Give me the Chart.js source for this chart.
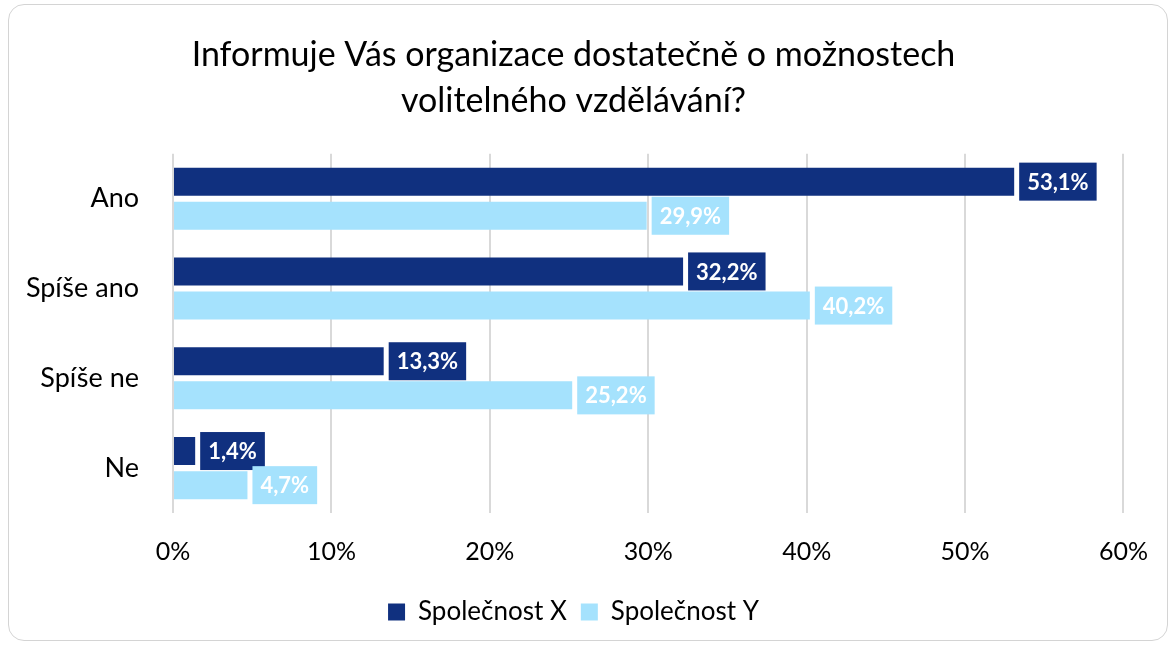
<!DOCTYPE html>
<html>
<head>
<meta charset="utf-8">
<script src="https://cdn.jsdelivr.net/npm/chart.js@4"></script>
<style>
  html, body { margin: 0; padding: 0; background: #fff; }
  #card {
    position: absolute; left: 8px; top: 4px; width: 1160px; height: 637px;
    border: 1.5px solid #d4d4d4; border-radius: 16px; box-sizing: border-box;
  }
  #wrap { position: absolute; left: 0; top: 0; width: 1172px; height: 646px; }
</style>
</head>
<body>
<div id="card"></div>
<div id="wrap"><canvas id="chart" width="1172" height="646"></canvas></div>
<script>
const categories = ['Ano', 'Spíše ano', 'Spíše ne', 'Ne'];
const seriesNames = ['Společnost X', 'Společnost Y'];
const companyX = [53.1, 32.2, 13.3, 1.4];
const companyY = [29.9, 40.2, 25.2, 4.7];
const titleLines = ['Informuje Vás organizace dostatečně o možnostech', 'volitelného vzdělávání?'];

const darkBlue = '#10307f';
const lightBlue = '#a5e2fd';
const fontFamily = 'Lato, "Open Sans", sans-serif';

// draws the value boxes next to each bar
const valueBoxes = {
  id: 'valueBoxes',
  afterDatasetsDraw(chart) {
    const ctx = chart.ctx;
    ctx.save();
    ctx.font = 'bold 22px ' + fontFamily;
    ctx.textBaseline = 'middle';
    ctx.textAlign = 'left';
    chart.data.datasets.forEach((ds, i) => {
      const meta = chart.getDatasetMeta(i);
      meta.data.forEach((bar, j) => {
        const text = ds.data[j].toFixed(1).replace('.', ',') + '%';
        const w = ctx.measureText(text).width + 16;
        const h = 38;
        const x = bar.x + 5;
        const y = bar.y - h / 2;
        ctx.fillStyle = ds.backgroundColor;
        ctx.fillRect(x, y, w, h);
        ctx.fillStyle = '#ffffff';
        ctx.fillText(text, x + 8, bar.y + 1);
      });
    });
    ctx.restore();
  }
};

new Chart(document.getElementById('chart').getContext('2d'), {
  type: 'bar',
  data: {
    labels: categories,
    datasets: [
      { label: seriesNames[0], data: companyX, backgroundColor: darkBlue },
      { label: seriesNames[1], data: companyY, backgroundColor: lightBlue }
    ]
  },
  options: {
    indexAxis: 'y',
    responsive: false,
    animation: false,
    categoryPercentage: 0.76,
    barPercentage: 0.82,
    layout: { padding: { left: 20, right: 45, top: 32, bottom: 11 } },
    scales: {
      x: {
        min: 0, max: 60,
        ticks: {
          stepSize: 10,
          color: '#000',
          font: { family: fontFamily, size: 25 },
          padding: 24,
          callback: v => v + '%'
        },
        grid: { color: '#d9d9d9', lineWidth: 2, drawTicks: false },
        border: { display: false },
        afterFit(scale) { scale.height -= 6; }
      },
      y: {
        ticks: {
          color: '#000',
          font: { family: fontFamily, size: 27 },
          padding: 34
        },
        grid: { display: false, drawTicks: false },
        border: { display: false },
        afterFit(scale) { scale.width = 153; }
      }
    },
    plugins: {
      title: {
        display: true,
        text: titleLines,
        color: '#000',
        font: { family: fontFamily, size: 34, weight: 'normal', lineHeight: 1.35 },
        padding: { top: 0, bottom: 30 }
      },
      legend: {
        position: 'bottom',
        labels: {
          color: '#000',
          font: { family: fontFamily, size: 26 },
          boxWidth: 17, boxHeight: 17,
          padding: 14
        }
      },
      tooltip: { enabled: false }
    }
  },
  plugins: [valueBoxes]
});
</script>
</body>
</html>
